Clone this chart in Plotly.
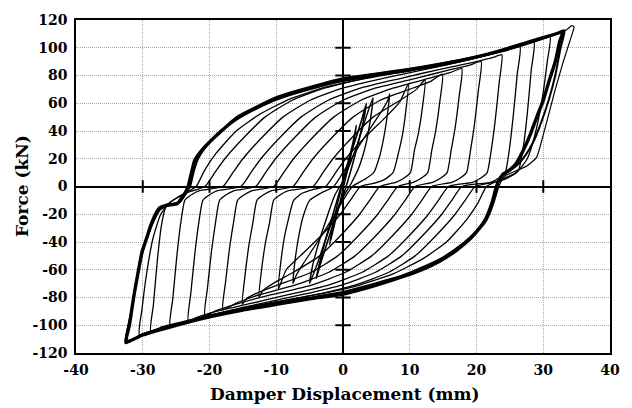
import plotly.graph_objects as go

# ---- hysteresis cycles: damper displacement (mm) and force (kN) ----
cycle_02_disp = [2.0, 1.6, 0.8, 0.0, -0.8, -1.5, -2.0, -1.6, -0.8, 0.0, 0.8, 1.5, 2.0]
cycle_02_force = [44, 32, 14, -2, -18, -32, -42, -30, -12, 3, 18, 32, 44]

cycle_04_disp = [3.5, 3.1, 2.2, 1.2, 0.2, -1.0, -2.2, -3.2, -4.0, -3.5, -2.6, -1.5, -0.4, 0.6, 1.8, 2.8, 3.5]
cycle_04_force = [60, 48, 30, 12, -4, -20, -38, -53, -66, -55, -38, -20, -2, 15, 33, 48, 60]

cycle_05_disp = [4.5, 4.1, 3.4, 2.4, 1.2, 0.2, -1.2, -2.6, -3.8, -5.0, -4.5, -3.6, -2.4, -1.2, 0.0, 1.2, 2.4, 3.6, 4.5]
cycle_05_force = [64, 48, 30, 14, 2, -6, -20, -38, -55, -70, -56, -40, -22, -6, 4, 18, 34, 52, 64]

cycle_07_disp = [7.0, 6.6, 6.1, 5.5, 4.6, 3.2, 1.4, -0.5, -2.5, -4.5, -6.0, -7.0, -7.5, -7.1, -6.6, -6.0,
                 -5.0, -3.4, -1.4, 0.5, 2.5, 4.5, 6.0, 6.7, 7.0]
cycle_07_force = [67, 50, 35, 22, 10, 5, 0, -14, -30, -45, -56, -64, -70, -50, -35, -22,
                  -10, -5, 0, 14, 30, 45, 56, 62, 67]

cycle_10_disp = [9.8, 9.4, 8.9, 8.3, 7.5, 6.2, 4.4, 2.6, 1.1, -0.4, -3.4, -6.4, -8.5, -9.7, -9.3, -8.8,
                 -8.2, -7.4, -6.2, -4.4, -2.6, -1.1, 0.4, 3.4, 6.4, 8.5, 9.8]
cycle_10_force = [74, 54, 37, 24, 10, 5, 2, 0, -10, -20, -36, -50, -60, -74, -54, -37,
                  -24, -10, -5, -2, 0, 10, 20, 36, 50, 61, 74]

cycle_12_disp = [12.3, 11.9, 11.3, 10.7, 10.1, 9.1, 7.9, 5.5, 4.0, 2.5, -0.5, -3.5, -7.5, -10.5, -12.0,
                 -12.6, -12.2, -11.6, -11.0, -10.4, -9.4, -8.2, -4.5, -3.0, -1.5, 1.5, 4.5, 8.5, 11.0, 12.3]
cycle_12_force = [77, 57, 38.5, 26, 10, 6, 3, 0, -10, -20, -36, -50, -62, -70, -75,
                  -80, -60, -40, -26, -10, -6, -3, 0, 10, 20, 36, 50, 62, 70, 77]

cycle_15_disp = [14.9, 14.5, 13.9, 13.3, 12.7, 11.7, 10.5, 8.2, 6.7, 5.2, 2.2, -0.8, -4.8, -9.8, -13.0, -14.5,
                 -15.1, -14.7, -14.1, -13.5, -12.9, -11.9, -10.7, -7.5, -6.0, -4.5, -1.5, 1.5, 5.5, 10.5, 13.2, 14.9]
cycle_15_force = [81, 61, 40.5, 26, 10, 6, 3, 0, -10, -20, -36, -50, -62, -71, -77, -81,
                  -85, -65, -42.5, -26, -10, -6, -3, 0, 10, 20, 36, 50, 62, 71, 76, 81]

cycle_18_disp = [17.8, 17.4, 16.8, 16.2, 15.6, 14.6, 13.4, 10.8, 9.3, 7.8, 4.8, 1.8, -2.2, -7.2, -12.5, -16.0,
                 -18.0, -17.6, -17.0, -16.4, -15.8, -14.8, -13.6, -10.4, -8.9, -7.4, -4.4, -1.4, 2.6, 7.6,
                 12.5, 16.0, 17.8]
cycle_18_force = [85, 65, 42.5, 26, 10, 6, 3, 0, -10, -20, -36, -50, -62, -71, -78, -84,
                  -89, -69, -44.5, -26, -10, -6, -3, 0, 10, 20, 36, 50, 62, 71,
                  77.5, 82, 85]

cycle_21_disp = [20.7, 20.3, 19.7, 19.1, 18.5, 17.5, 16.3, 13.3, 11.8, 10.3, 7.3, 4.3, 0.3, -4.7, -10.7, -15.5,
                 -19.0, -20.7, -20.3, -19.7, -19.1, -18.5, -17.5, -16.3, -13.1, -11.6, -10.1, -7.1, -4.1, -0.1,
                 4.9, 10.9, 15.5, 19.0, 20.7]
cycle_21_force = [90, 70, 45, 26, 10, 6, 3, 0, -10, -20, -36, -50, -62, -71, -78, -84,
                  -89.5, -93, -73, -46.5, -26, -10, -6, -3, 0, 10, 20, 36, 50, 62,
                  71, 78, 83.5, 87.5, 90]

cycle_24_disp = [23.8, 23.4, 22.8, 22.2, 21.6, 20.6, 19.4, 15.8, 14.3, 12.8, 9.8, 6.8, 2.8, -2.2, -8.2, -14.0,
                 -19.0, -22.0, -23.2, -22.8, -22.2, -21.6, -21.0, -20.0, -18.8, -15.3, -13.8, -12.3, -9.3, -6.3,
                 -2.3, 2.7, 8.7, 14.5, 19.5, 22.5, 23.8]
cycle_24_force = [95, 75, 47.5, 26, 10, 6, 3, 0, -10, -20, -36, -50, -62, -71, -78, -84.5,
                  -90, -94.5, -97, -77, -48.5, -26, -10, -6, -3, 0, 10, 20, 36, 50,
                  62, 71, 78, 84.5, 89.5, 93, 95]

cycle_26_disp = [26.5, 26.1, 25.5, 24.9, 24.3, 23.3, 22.1, 17.8, 16.3, 14.8, 11.8, 8.8, 4.8, -0.2, -6.2, -12.0,
                 -18.0, -23.0, -25.9, -25.5, -24.9, -24.3, -23.7, -22.7, -21.5, -18.0, -16.5, -15.0, -12.0, -9.0,
                 -5.0, 0.0, 6.0, 12.0, 18.0, 23.0, 26.5]
cycle_26_force = [101, 81, 50.5, 26, 10, 6, 3, 0, -10, -20, -36, -50, -62, -71, -78, -84,
                  -90.5, -96.5, -101, -81, -50.5, -26, -10, -6, -3, 0, 10, 20, 36, 50,
                  62, 71, 78, 84, 90.5, 96.5, 101]

cycle_29_disp = [28.6, 28.2, 27.6, 27.0, 26.3, 25.0, 23.5, 19.8, 18.3, 16.8, 13.8, 10.8, 6.8, 1.8, -4.2, -10.0,
                 -16.0, -22.0, -26.5, -28.8, -28.4, -27.8, -27.2, -26.5, -25.2, -23.7, -20.7, -19.2, -17.7, -14.7,
                 -11.7, -7.7, -2.7, 3.3, 9.0, 15.0, 21.0, 25.5, 28.6]
cycle_29_force = [104, 84, 52, 28, 12, 7, 4, 0, -10, -20, -36, -50, -62, -71, -78, -83.5,
                  -89, -95.5, -101, -105, -85, -52.5, -28, -14, -9, -5, 0, 10, 20, 36,
                  50, 62, 71, 78, 83.5, 89, 95, 100, 104]

cycle_31_disp = [31.0, 30.6, 29.8, 28.8, 27.6, 26.0, 24.2, 21.5, 20.2, 18.5, 15.5, 12.0, 7.5, 2.5, -3.0, -10.0,
                 -16.0, -22.0, -27.0, -30.5, -30.1, -29.4, -28.5, -27.3, -25.8, -24.0, -22.0, -20.7, -19.0, -16.0,
                 -12.5, -8.0, -3.0, 2.5, 9.5, 15.5, 21.5, 26.5, 31.0]
cycle_31_force = [108.5, 90, 62, 38, 20, 10, 6, 0, -12, -24, -40, -52, -63, -71, -77, -83,
                  -88.5, -95, -101, -107, -88, -62, -38, -20, -11, -6, 0, 12, 24, 40,
                  52, 63, 71, 77, 83, 88.5, 95, 101, 108.5]

cycle_33_disp = [33.0, 32.5, 31.8, 31.0, 30.0, 29.1, 28.1, 27.1, 26.0, 25.0, 24.0, 23.2, 22.8, 22.2, 21.4, 20.3,
                 19.2, 17.0, 14.4, 12.0, 9.5, 5.0, 0.0, -5.0, -10.0, -15.0, -20.0, -25.0, -30.0, -32.5, -32.0,
                 -31.3, -30.7, -30.1, -29.4, -28.8, -28.2, -27.6, -26.4, -24.9, -23.9, -23.2, -22.7, -22.2, -21.0,
                 -19.8, -18.0, -15.8, -13.0, -9.9, -5.1, 0.0, 5.0, 9.5, 15.0, 19.3, 24.0, 29.1, 32.5, 33.0]
cycle_33_force = [112, 105, 90, 78, 62, 51, 38, 27, 17, 12, 9, 3, -6, -15, -24, -31,
                  -37, -46, -54, -59.5, -64, -71, -77.5, -81, -85, -89, -94, -100, -107, -112, -100,
                  -78, -62, -47, -37, -28, -21, -16, -13.5, -12.5, -6.5, 0, 10, 19, 27,
                  33, 41, 50, 57, 64, 71, 77.5, 81, 84, 88.5, 92.5, 98.5, 106, 111, 112]

cycle_33b_disp = [33.2, 32.6, 31.8, 30.8, 29.6, 28.6, 27.4, 26.0, 24.8, 23.6, 22.9, 22.2, 21.2, 19.8, 18.0,
                  15.0, 12.0, 9.0, 4.0, 0.0, -5.0, -10.0, -15.0, -20.0, -25.0, -30.0, -32.6, -31.8, -31.0,
                  -30.2, -29.3, -28.4, -27.5, -26.0, -24.5, -23.5, -22.9, -22.3, -21.6, -20.3, -18.5, -16.0,
                  -13.0, -10.0, -5.0, 0.0, 5.0, 10.0, 15.0, 20.0, 25.0, 29.0, 32.0, 33.2]
cycle_33b_force = [112.5, 100, 80, 62, 45, 33, 23, 15, 11, 6, 0, -12, -24, -33, -41,
                   -51, -58, -64, -71, -76, -80, -84, -88.5, -93.5, -99.5, -106.5, -113, -92, -70,
                   -50, -35, -24, -16.5, -13, -11.5, -5, 0, 12, 21, 30, 39, 48,
                   56, 62.5, 70, 76, 80, 83.5, 87.5, 93, 99, 105, 110, 112.5]

cycle_34_disp = [-32.5, -32.0, -31.2, -30.5, -29.8, -29.0, -28.2, -27.4, -26.2, -24.8, -23.8, -23.0, -22.4, -21.8,
                 -20.5, -18.5, -15.5, -12.0, -8.0, -3.0, 2.0, 8.0, 14.0, 20.0, 26.0, 31.0, 33.5, 34.3, 34.6, 34.2,
                 33.0, 31.8, 30.6, 29.6, 29.0, 27.6, 25.8, 24.4, 23.6, 22.8]
cycle_34_force = [-113, -98, -75, -58, -44, -33, -24, -17, -14, -13, -7, 0, 10, 20,
                  29, 39, 51, 59, 66, 73, 79, 83.5, 88, 93.5, 101, 108, 113, 116, 115, 108,
                  90, 70, 48, 30, 21, 15, 11, 8, 3, -8]

# ---- axes ----
x_ticks = [-40, -30, -20, -10, 0, 10, 20, 30, 40]
y_ticks = [-120, -100, -80, -60, -40, -20, 0, 20, 40, 60, 80, 100, 120]
x_tick_labels = ["-40", "-30", "-20", "-10", "0", "10", "20", "30", "40"]
y_tick_labels = ["-120", "-100", "-80", "-60", "-40", "-20", "0", "20", "40", "60", "80", "100", "120"]

# crossing tick marks along the zero axes
x_zero_marks = [v for v in x_ticks if v not in (-40, 0, 40)]
y_zero_marks = [v for v in y_ticks if v not in (-120, 0, 120)]

FONT = "DejaVu Serif"

cycles = [
    (cycle_02_disp, cycle_02_force, 1.4),
    (cycle_04_disp, cycle_04_force, 1.6),
    (cycle_05_disp, cycle_05_force, 1.4),
    (cycle_07_disp, cycle_07_force, 1.3),
    (cycle_10_disp, cycle_10_force, 1.3),
    (cycle_12_disp, cycle_12_force, 1.3),
    (cycle_15_disp, cycle_15_force, 1.3),
    (cycle_18_disp, cycle_18_force, 1.3),
    (cycle_21_disp, cycle_21_force, 1.3),
    (cycle_24_disp, cycle_24_force, 1.3),
    (cycle_26_disp, cycle_26_force, 1.3),
    (cycle_29_disp, cycle_29_force, 1.3),
    (cycle_31_disp, cycle_31_force, 1.3),
    (cycle_33b_disp, cycle_33b_force, 2.0),
    (cycle_33_disp, cycle_33_force, 3.4),
    (cycle_34_disp, cycle_34_force, 1.2),
]

fig = go.Figure()

for disp, force, w in cycles:
    fig.add_trace(go.Scatter(
        x=disp, y=force, mode="lines",
        line=dict(color="black", width=w, shape="spline", smoothing=0.5),
        hoverinfo="skip", showlegend=False,
    ))

fig.add_trace(go.Scatter(
    x=[0] * len(y_zero_marks), y=y_zero_marks, mode="markers",
    marker=dict(symbol="line-ew", size=11, line=dict(color="black", width=2)),
    hoverinfo="skip", showlegend=False,
))
fig.add_trace(go.Scatter(
    x=x_zero_marks, y=[0] * len(x_zero_marks), mode="markers",
    marker=dict(symbol="line-ns", size=9, line=dict(color="black", width=2)),
    hoverinfo="skip", showlegend=False,
))

axis_common = dict(
    showgrid=True, gridcolor="#a8a8a8", griddash="1px,1px", gridwidth=1,
    zeroline=True, zerolinecolor="black", zerolinewidth=2,
    showline=True, linecolor="black", linewidth=1.5, mirror=True,
    ticks="", tickfont=dict(family=FONT, size=14, color="black", weight="bold"),
)

fig.update_layout(
    width=632, height=408,
    margin=dict(l=76, r=13, t=19, b=55),
    paper_bgcolor="white", plot_bgcolor="white",
    showlegend=False,
    xaxis=dict(range=[-40, 40], tickvals=x_ticks, ticktext=x_tick_labels,
               ticklabelstandoff=3, **axis_common),
    yaxis=dict(range=[-120, 120], tickvals=y_ticks, ticktext=y_tick_labels,
               ticklabelstandoff=4, **axis_common),
    annotations=[
        dict(text="Damper Displacement (mm)", xref="paper", yref="paper",
             x=0.503, y=-0.124, xanchor="center", yanchor="middle", showarrow=False,
             font=dict(family=FONT, size=17, color="black", weight="bold")),
        dict(text="Force (kN)", xref="paper", yref="paper", textangle=-90,
             x=-0.102, y=0.5, xanchor="center", yanchor="middle", showarrow=False,
             font=dict(family=FONT, size=17, color="black", weight="bold")),
    ],
)

fig.write_html("out.html")
